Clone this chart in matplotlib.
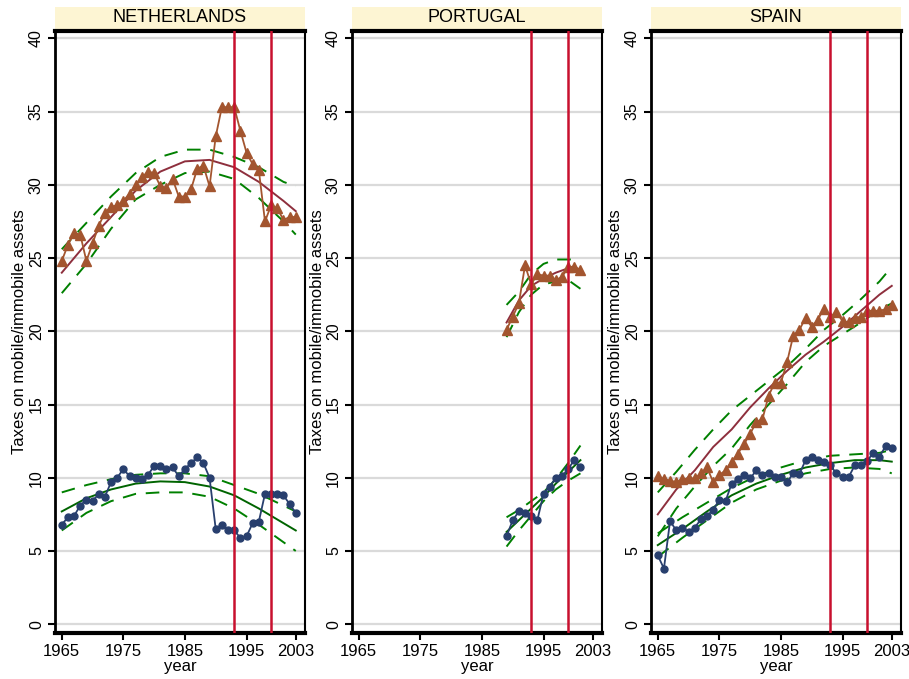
import matplotlib
matplotlib.use("Agg")
import matplotlib.pyplot as plt
from matplotlib.patches import Rectangle

# Netherlands
nl_years = list(range(1965, 2004))
nl_tri = [24.8, 25.9, 26.7, 26.6, 24.8, 26.0, 27.2, 28.1, 28.5, 28.6,
          28.9, 29.4, 30.0, 30.5, 30.9, 30.8, 29.9, 29.8, 30.4, 29.2,
          29.2, 29.7, 31.1, 31.3, 29.9, 33.3, 35.3, 35.3, 35.3, 33.7,
          32.2, 31.4, 31.0, 27.5, 28.6, 28.4, 27.6, 27.8, 27.8]
nl_dot = [6.8, 7.3, 7.4, 8.1, 8.5, 8.4, 8.9, 8.7, 9.7, 10.0,
          10.6, 10.1, 10.0, 9.9, 10.2, 10.8, 10.8, 10.6, 10.7, 10.1,
          10.6, 11.0, 11.4, 11.0, 10.0, 6.5, 6.8, 6.4, 6.4, 5.9,
          6.0, 6.9, 7.0, 8.9, 8.9, 8.9, 8.8, 8.2, 7.6]
nl_fit_years = [1965, 1969, 1973, 1977, 1981, 1985, 1989, 1993, 1997, 2001, 2003]
nl_tri_fit = [24.0, 26.0, 27.8, 29.6, 30.9, 31.6, 31.7, 31.2, 30.2, 28.9, 28.2]
nl_tri_hi = [25.6, 27.4, 29.2, 30.8, 31.9, 32.4, 32.4, 31.9, 31.2, 30.2, 29.9]
nl_tri_lo = [22.6, 24.6, 27.0, 29.0, 30.0, 30.8, 30.9, 30.4, 29.1, 27.5, 26.6]
nl_dot_fit = [7.7, 8.6, 9.2, 9.6, 9.75, 9.7, 9.4, 8.8, 7.9, 6.9, 6.4]
nl_dot_hi = [9.0, 9.5, 9.9, 10.2, 10.3, 10.3, 10.1, 9.5, 8.9, 8.1, 7.7]
nl_dot_lo = [6.4, 7.6, 8.4, 8.9, 9.0, 9.0, 8.7, 7.9, 6.8, 5.6, 5.0]

# Portugal
pt_years = list(range(1989, 2002))
pt_tri = [20.1, 21.0, 21.9, 24.5, 23.2, 23.9, 23.8, 23.8, 23.5, 23.7,
          24.4, 24.4, 24.2]
pt_dot = [6.0, 7.1, 7.7, 7.6, 7.4, 7.1, 8.9, 9.4, 10.0, 10.1,
          10.6, 11.2, 10.7]
pt_fit_years = [1989, 1991, 1993, 1995, 1997, 1999, 2001]
pt_tri_fit = [20.6, 22.1, 23.1, 23.6, 24.0, 24.3, 24.1]
pt_tri_hi = [21.8, 22.7, 23.9, 24.6, 24.9, 24.9, 24.9]
pt_tri_lo = [19.6, 21.3, 22.5, 23.2, 23.4, 23.5, 22.9]
pt_dot_fit = [6.3, 7.1, 7.9, 8.7, 9.6, 10.4, 11.2]
pt_dot_hi = [7.3, 7.8, 8.4, 9.0, 9.9, 11.0, 12.2]
pt_dot_lo = [5.3, 6.4, 7.4, 8.4, 9.2, 9.8, 10.3]

# Spain
es_years = list(range(1965, 2004))
es_tri = [10.1, 9.9, 9.8, 9.7, 9.9, 9.95, 9.95, 10.3, 10.7, 9.7,
          10.2, 10.5, 11.1, 11.65, 12.3, 13.0, 13.8, 14.0, 15.6, 16.5,
          16.5, 17.9, 19.7, 20.1, 20.9, 20.3, 20.8, 21.55, 21.0, 21.3,
          20.7, 20.6, 20.9, 21.0, 21.4, 21.4, 21.4, 21.5, 21.8]
es_dot = [4.7, 3.8, 7.05, 6.4, 6.6, 6.3, 6.6, 7.15, 7.4, 7.8,
          8.5, 8.4, 9.6, 9.9, 10.2, 9.95, 10.5, 10.2, 10.3, 10.05,
          10.05, 9.7, 10.3, 10.25, 11.2, 11.4, 11.2, 11.1, 10.85, 10.3,
          10.05, 10.05, 10.85, 10.85, 11.15, 11.7, 11.45, 12.15, 12.05]
es_tri_fit_years = [1965, 1968, 1971, 1974, 1977, 1980, 1983, 1986, 1989,
                    1992, 1995, 1998, 2001, 2003]
es_tri_fit = [7.5, 9.2, 10.5, 12.1, 13.3, 14.8, 16.1, 17.3, 18.4,
              19.3, 20.3, 21.4, 22.5, 23.1]
es_tri_hi = [9.0, 10.4, 11.9, 13.3, 14.6, 15.6, 16.6, 17.6, 18.8,
             20.1, 21.1, 22.2, 23.4, 24.4]
es_tri_lo = [6.0, 7.9, 9.4, 10.8, 12.0, 13.6, 15.0, 16.4, 17.9,
             19.0, 19.8, 20.6, 21.5, 21.9]
es_dot_fit_years = [1965, 1969, 1973, 1977, 1981, 1985, 1989, 1993, 1997, 2001, 2003]
es_dot_fit = [5.4, 6.5, 7.7, 8.8, 9.6, 10.2, 10.7, 11.0, 11.2, 11.2, 11.1]
es_dot_hi = [6.2, 7.3, 8.3, 9.3, 10.1, 10.7, 11.2, 11.5, 11.6, 11.7, 11.9]
es_dot_lo = [4.6, 5.9, 7.1, 8.3, 9.2, 9.8, 10.3, 10.6, 10.7, 10.6, 10.3]

ref_years = [1993, 1999]
x_ticks = [1965, 1975, 1985, 1995, 2003]
y_ticks = list(range(0, 41, 5))

TRI_COLOR = "#a3552f"
DOT_COLOR = "#283f6e"
FIT_RED = "#8e2f3d"
CI_GREEN = "#008000"
FIT_GREEN = "#006400"
REF_RED = "#c8102e"
BAR_COLOR = "#fdf5d3"
GRID_COLOR = "#dadada"
NARROW = ["Liberation Sans Narrow", "Liberation Sans", "DejaVu Sans"]

plt.rcParams["font.family"] = ["Liberation Sans", "DejaVu Sans"]


def draw_fit(ax, years, mid, hi, lo, mid_color):
    """Fitted line with its dashed confidence band"""
    ax.plot(years, hi, color=CI_GREEN, lw=1.4, ls=(0, (7, 5)), zorder=3)
    ax.plot(years, lo, color=CI_GREEN, lw=1.4, ls=(0, (7, 5)), zorder=3)
    ax.plot(years, mid, color=mid_color, lw=1.4, zorder=3)


def draw_panel(fig, left, name, years, tri, dot, tri_fit, dot_fit):
    """One country panel"""
    ax = fig.add_axes([left / 909, 46 / 679, 250 / 909, 602 / 679])
    ax.set_xlim(1963.9, 2004.5)
    ax.set_ylim(-0.6, 40.5)

    for v in y_ticks:
        ax.axhline(v, color=GRID_COLOR, lw=1.6, zorder=1)

    draw_fit(ax, *tri_fit, FIT_RED)
    draw_fit(ax, *dot_fit, FIT_GREEN)

    ax.plot(years, tri, color=TRI_COLOR, lw=1.3, marker="^", ms=6.5,
            zorder=4)
    ax.plot(years, dot, color=DOT_COLOR, lw=1.3, marker="o", ms=5,
            zorder=4)

    for yr in ref_years:
        ax.axvline(yr, color=REF_RED, lw=1.8, zorder=5)

    # Frame
    ax.spines["left"].set_linewidth(2.0)
    ax.spines["bottom"].set_linewidth(3.0)
    ax.spines["top"].set_linewidth(3.0)
    ax.spines["right"].set_linewidth(1.5)

    ax.set_xticks(x_ticks)
    ax.set_xticklabels([str(t) for t in x_ticks], family=NARROW, fontsize=12)
    ax.set_yticks(y_ticks)
    ax.set_yticklabels([str(t) for t in y_ticks], rotation=90, va="center",
                       fontsize=11.5)
    ax.tick_params(axis="both", length=5, width=1.5, pad=3)
    ax.set_xlabel("year", family=NARROW, fontsize=12, labelpad=0)
    ax.set_ylabel("Taxes on mobile/immobile assets", fontsize=12,
                  labelpad=1)

    # Title bar
    ax.add_patch(Rectangle((0, 1.004), 1, 0.036, transform=ax.transAxes,
                           facecolor=BAR_COLOR, edgecolor="none",
                           clip_on=False))
    ax.text(0.5, 1.022, name, transform=ax.transAxes, ha="center",
            va="center", family=NARROW, fontsize=13)
    return ax


def main():
    fig = plt.figure(figsize=(9.09, 6.79), dpi=100)

    draw_panel(fig, 55, "NETHERLANDS", nl_years, nl_tri, nl_dot,
               (nl_fit_years, nl_tri_fit, nl_tri_hi, nl_tri_lo),
               (nl_fit_years, nl_dot_fit, nl_dot_hi, nl_dot_lo))
    draw_panel(fig, 352, "PORTUGAL", pt_years, pt_tri, pt_dot,
               (pt_fit_years, pt_tri_fit, pt_tri_hi, pt_tri_lo),
               (pt_fit_years, pt_dot_fit, pt_dot_hi, pt_dot_lo))
    draw_panel(fig, 651, "SPAIN", es_years, es_tri, es_dot,
               (es_tri_fit_years, es_tri_fit, es_tri_hi, es_tri_lo),
               (es_dot_fit_years, es_dot_fit, es_dot_hi, es_dot_lo))

    fig.savefig("out.png", dpi=100)


if __name__ == "__main__":
    main()
